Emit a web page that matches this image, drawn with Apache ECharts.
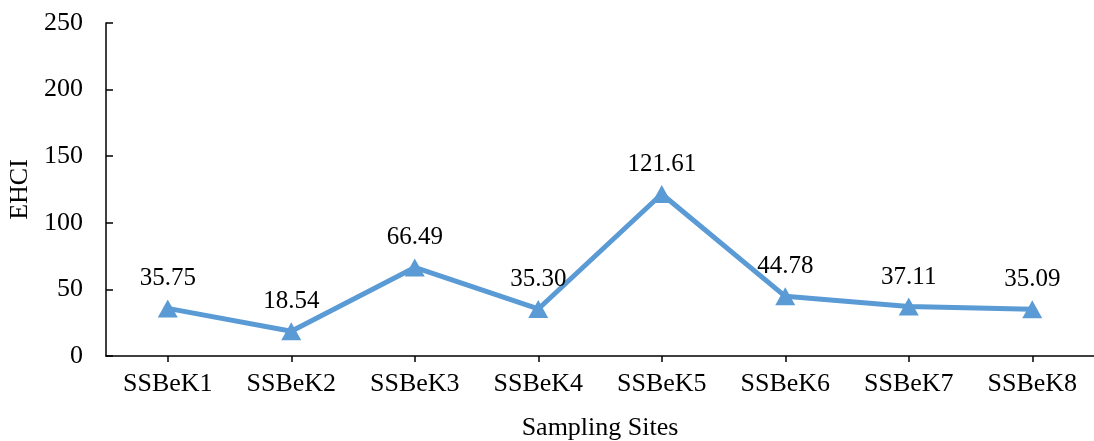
<!DOCTYPE html>
<html>
<head>
<meta charset="utf-8">
<script src="https://cdn.jsdelivr.net/npm/echarts@6/dist/echarts.min.js"></script>
<style>
  html, body { margin: 0; padding: 0; background: #fff; }
  #chart { width: 1094px; height: 441px; }
</style>
</head>
<body>
<div id="chart"></div>
<script>
// Sampling sites along the river and their EHCI values
const sites = ['SSBeK1', 'SSBeK2', 'SSBeK3', 'SSBeK4', 'SSBeK5', 'SSBeK6', 'SSBeK7', 'SSBeK8'];
const ehci = [35.75, 18.54, 66.49, 35.30, 121.61, 44.78, 37.11, 35.09];
const yTicks = [0, 50, 100, 150, 200, 250];

const FONT = '"Liberation Serif", "Times New Roman", serif';
const chart = echarts.init(document.getElementById('chart'), null, { renderer: 'canvas' });

chart.setOption({
  animation: false,
  backgroundColor: '#fff',
  grid: { left: 106, right: 0, top: 23, bottom: 85, containLabel: false, outerBoundsMode: 'none' },
  xAxis: {
    type: 'category',
    data: sites,
    boundaryGap: true,
    name: 'Sampling Sites',
    nameLocation: 'middle',
    nameGap: 59,
    nameTextStyle: { fontFamily: FONT, fontSize: 26, color: '#000' },
    axisLine: { lineStyle: { color: '#000', width: 1.5 } },
    axisTick: { show: true, length: 6, alignWithLabel: true, lineStyle: { color: '#000', width: 1.5 } },
    axisLabel: { fontFamily: FONT, fontSize: 26, color: '#000', margin: 15 },
    splitLine: { show: false }
  },
  yAxis: {
    type: 'value',
    min: yTicks[0],
    max: yTicks[yTicks.length - 1],
    interval: yTicks[1] - yTicks[0],
    name: 'EHCI',
    nameLocation: 'middle',
    nameRotate: 90,
    nameGap: 70,
    nameTextStyle: { fontFamily: FONT, fontSize: 26, color: '#000' },
    axisLine: { show: true, lineStyle: { color: '#000', width: 1.5 } },
    axisTick: { show: true, inside: true, length: 7, lineStyle: { color: '#000', width: 1.5 } },
    axisLabel: { fontFamily: FONT, fontSize: 26, color: '#000', margin: 23 },
    splitLine: { show: false }
  },
  series: [{
    type: 'line',
    data: ehci,
    symbol: 'triangle',
    symbolSize: [20, 18],
    itemStyle: { color: '#5B9BD5' },
    lineStyle: { color: '#5B9BD5', width: 5 },
    label: {
      show: true,
      position: 'top',
      distance: 8,
      fontFamily: FONT,
      fontSize: 25,
      color: '#000',
      formatter: p => p.value.toFixed(2)
    }
  }]
});
</script>
</body>
</html>
